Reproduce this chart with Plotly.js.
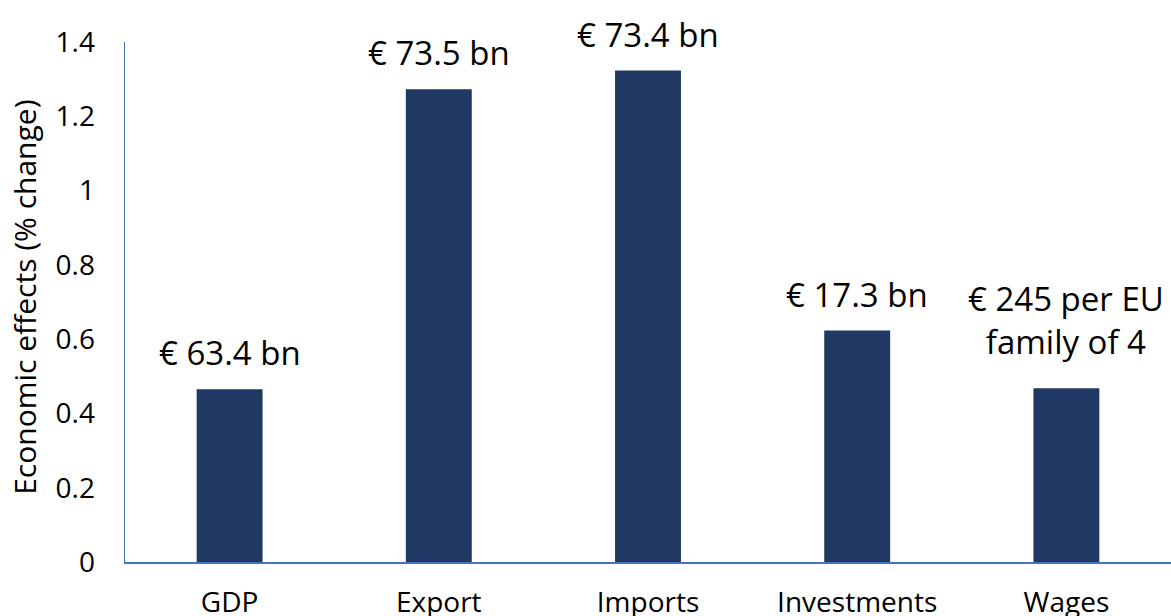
<!DOCTYPE html>
<html>
<head>
<meta charset="utf-8">
<script src="https://cdn.plot.ly/plotly-3.0.1.min.js"></script>
<style>html,body{margin:0;padding:0;background:#fff;}#chart{width:1171px;height:616px;}</style>
</head>
<body>
<div id="chart"></div>
<script>
const categories = ["GDP", "Export", "Imports", "Investments", "Wages"];
const values = [0.465, 1.273, 1.323, 0.623, 0.468];
const labels = ["€ 63.4 bn", "€ 73.5 bn", "€ 73.4 bn", "€ 17.3 bn", "€ 245 per EU<br>family of 4"];
const yTicks = [0, 0.2, 0.4, 0.6, 0.8, 1, 1.2, 1.4];
const yTickText = ["0", "0.2", "0.4", "0.6", "0.8", "1", "1.2", "1.4"];
const yTitle = "Economic effects (% change)";

const FONT = "'Open Sans', sans-serif";
const AXIS = "#4472C4";

const trace = {
  type: "bar",
  x: categories,
  y: values,
  marker: {color: "#203864"},
  width: 0.315,
  hoverinfo: "none"
};

const annotations = categories.map((c, i) => ({
  x: c, y: values[i], xref: "x", yref: "y",
  text: labels[i], showarrow: false,
  yanchor: "bottom", yshift: labels[i].includes("<br>") ? 22 : 12,
  font: {family: FONT, size: 33, color: "#000"},
  align: "center"
}));

annotations.push({
  xref: "paper", yref: "paper", x: -0.0956, y: 0.508,
  xanchor: "center", yanchor: "middle", textangle: -90,
  text: yTitle, showarrow: false,
  font: {family: FONT, size: 30, color: "#000"}
});

const layout = {
  width: 1171, height: 616,
  margin: {l: 125, r: 0, t: 42, b: 54},
  paper_bgcolor: "#fff", plot_bgcolor: "#fff",
  showlegend: false,
  font: {family: FONT, color: "#000"},
  xaxis: {
    range: [-0.5, 4.5],
    showline: true, linecolor: AXIS, linewidth: 1.5,
    showgrid: false, zeroline: false, ticks: "",
    tickfont: {family: FONT, size: 28, color: "#000"},
    ticklabelstandoff: 15
  },
  yaxis: {
    range: [0, 1.4],
    tickvals: yTicks, ticktext: yTickText,
    showline: true, linecolor: AXIS, linewidth: 1.5,
    showgrid: false, zeroline: false, ticks: "",
    tickfont: {family: FONT, size: 28, color: "#000"},
    ticklabelstandoff: 23
  },
  annotations: annotations
};

Plotly.newPlot("chart", [trace], layout, {displayModeBar: false, staticPlot: true});
</script>
</body>
</html>
